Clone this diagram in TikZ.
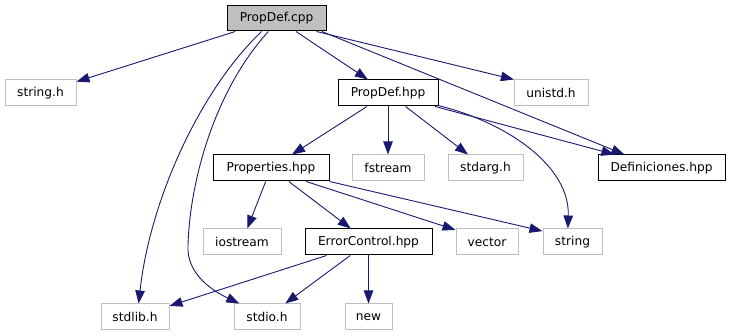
\documentclass[tikz,border=0pt]{standalone}
\usepackage{fontspec}
\setmainfont{DejaVu Sans}
\usetikzlibrary{arrows.meta}
\definecolor{edgeblue}{HTML}{191970}
\definecolor{boxgray}{HTML}{BFBFBF}

\begin{document}
\begin{tikzpicture}[x=1pt,y=-1pt,
  every node/.style={inner sep=0pt, minimum height=26pt, line width=1pt,
    font=\fontsize{12.2}{14}\selectfont, fill=white},
  filebox/.style={draw=black},
  mainbox/.style={draw=black, fill=boxgray, minimum height=25pt},
  sysbox/.style={draw=boxgray},
  dep/.style={edgeblue, line width=0.9pt, -{Triangle[length=13pt,width=9.5pt]}}
]
\fill[white] (0,0) rectangle (731,336);
\useasboundingbox (0,0) rectangle (731,336);

% headers
\node[mainbox, minimum width=99pt]  (cpp)    at (276.5,18.5) {PropDef.cpp};
\node[sysbox,  minimum width=71pt]  (strh)   at (40.5,93)    {string.h};
\node[filebox, minimum width=100pt] (pdh)    at (388,93)     {PropDef.hpp};
\node[sysbox,  minimum width=74pt]  (unistd) at (551,93)     {unistd.h};
\node[filebox, minimum width=116pt] (proph)  at (271,168)    {Properties.hpp};
\node[sysbox,  minimum width=72pt]  (fstr)   at (388,168)    {fstream};
\node[sysbox,  minimum width=75pt]  (stdarg) at (485.5,168)  {stdarg.h};
\node[filebox, minimum width=127pt] (defh)   at (661.5,168)  {Definiciones.hpp};
\node[sysbox,  minimum width=78pt]  (iostr)  at (242,242)    {iostream};
\node[filebox, minimum width=127pt] (errc)   at (368.5,242)  {ErrorControl.hpp};
\node[sysbox,  minimum width=62pt]  (vec)    at (487,242)    {vector};
\node[sysbox,  minimum width=59pt]  (strg)   at (572.5,242)  {string};
\node[sysbox,  minimum width=68pt]  (stdlib) at (135,317)    {stdlib.h};
\node[sysbox,  minimum width=66pt]  (stdio)  at (267,317)    {stdio.h};
\node[sysbox,  minimum width=47pt]  (new)    at (368.5,317)  {new};

% includes of PropDef.cpp
\draw[dep] (cpp) -- (strh);
\draw[dep] (cpp) -- (pdh);
\draw[dep] (cpp.-18) -- (unistd.160);
\draw[dep] (cpp.-16) -- (defh.160);
\draw[dep] (cpp.-139) .. controls (200,90) and (150,200) .. (stdlib.75);
\draw[dep] (cpp.-122) .. controls (215,90) and (190,180) .. (188,245)
                      .. controls (186,275) and (215,292) .. (stdio.154);

% includes of PropDef.hpp
\draw[dep] (pdh) -- (proph);
\draw[dep] (pdh) -- (fstr);
\draw[dep] (pdh) -- (stdarg);
\draw[dep] (pdh.-16) -- (defh.164);
\draw[dep] (pdh.-14) .. controls (505,122) and (570,165) .. (strg.109);

% includes of Properties.hpp
\draw[dep] (proph) -- (iostr);
\draw[dep] (proph) -- (errc);
\draw[dep] (proph.-21) -- (vec.159);
\draw[dep] (proph.-13) -- (strg.160);

% includes of ErrorControl.hpp
\draw[dep] (errc) -- (stdlib);
\draw[dep] (errc) -- (stdio);
\draw[dep] (errc) -- (new);
\end{tikzpicture}
\end{document}
